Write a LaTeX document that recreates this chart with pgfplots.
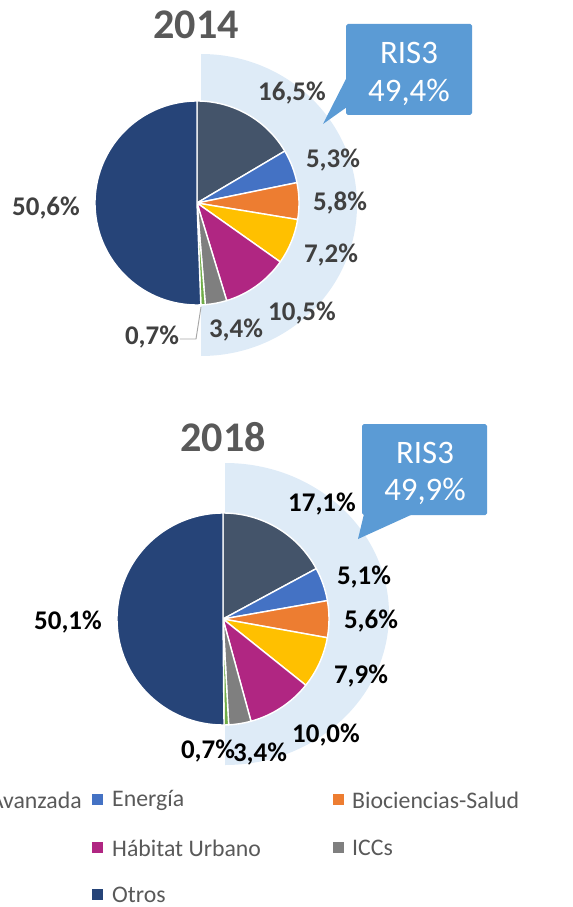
\documentclass[border=0pt]{standalone}
\usepackage{pgfplots}
\pgfplotsset{compat=1.18}
\usepackage{pgfplotstable}
\usepackage{fontspec}
\setmainfont{Carlito}

\definecolor{cFA}{HTML}{44546A}
\definecolor{cEN}{HTML}{4472C4}
\definecolor{cBS}{HTML}{ED7D31}
\definecolor{cAG}{HTML}{FFC000}
\definecolor{cHU}{HTML}{B02682}
\definecolor{cIC}{HTML}{7F7F7F}
\definecolor{cTU}{HTML}{70AD47}
\definecolor{cOT}{HTML}{264478}
\definecolor{ring}{HTML}{DEEBF7}
\definecolor{callout}{HTML}{5B9BD5}
\definecolor{titlegray}{HTML}{595959}
\definecolor{labgray}{HTML}{404040}

\tikzset{
  lab/.style={font=\bfseries\fontsize{23}{26}\selectfont, inner sep=0pt},
  leg/.style={font=\fontsize{20.3}{23}\selectfont, text=titlegray, inner sep=0pt, anchor=west},
  ttl/.style={font=\bfseries\fontsize{36}{40}\selectfont, text=titlegray, inner sep=0pt},
  ris/.style={text=white, font=\fontsize{28}{32}\selectfont, inner sep=0pt},
}

% clockwise from 12 o'clock
\pgfplotstableread{
sector val col
FA 16.5 cFA
EN 5.3 cEN
BS 5.8 cBS
AG 7.2 cAG
HU 10.5 cHU
IC 3.4 cIC
TU 0.7 cTU
OT 50.6 cOT
}\dataA
\pgfplotstableread{
sector val col
FA 17.1 cFA
EN 5.1 cEN
BS 5.6 cBS
AG 7.9 cAG
HU 10.0 cHU
IC 3.4 cIC
TU 0.7 cTU
OT 50.1 cOT
}\dataB

\def\pxu{0.3mm}

% #1 table, #2 cx, #3 cy, #4 radius (px)
\newcommand\drawpie[4]{%
  \pgfplotstablegetrowsof{#1}%
  \pgfmathtruncatemacro\lastrow{\pgfplotsretval-1}%
  \gdef\pietotal{0}%
  \foreach \i in {0,...,\lastrow}{%
    \pgfplotstablegetelem{\i}{val}\of{#1}%
    \pgfmathsetmacro\tmp{\pietotal+\pgfplotsretval}%
    \xdef\pietotal{\tmp}%
  }%
  \gdef\piecum{0}%
  \foreach \i in {0,...,\lastrow}{%
    \pgfplotstablegetelem{\i}{val}\of{#1}\let\sliceval\pgfplotsretval
    \pgfplotstablegetelem{\i}{col}\of{#1}\let\slicecol\pgfplotsretval
    \pgfmathsetmacro\aS{90-\piecum/\pietotal*360}%
    \pgfmathsetmacro\aE{90-(\piecum+\sliceval)/\pietotal*360}%
    \fill[\slicecol, draw=white, line width=1.2pt, line join=round]
      (axis cs:#2,#3) -- ++(\aS:#4*\pxu)
      arc[start angle=\aS, end angle=\aE, radius=#4*\pxu] -- cycle;
    \pgfmathsetmacro\tmp{\piecum+\sliceval}%
    \xdef\piecum{\tmp}%
  }%
}

\begin{document}
\begin{tikzpicture}
\begin{axis}[
  name=ax,
  scale only axis,
  width=171.9mm, height=272.1mm,
  xmin=0, xmax=573, ymin=0, ymax=907,
  y dir=reverse,
  axis lines=none, ticks=none,
  clip=false,
]
\pgfplotsextra{
  \begin{scope}
  \clip (axis cs:0,0) rectangle (axis cs:573,907);
  % light blue RIS3 backgrounds
  \fill[ring] (axis cs:201,205) ++(90:151*\pxu)
     arc[start angle=90, end angle=-90, x radius=156*\pxu, y radius=151*\pxu] -- cycle;
  \fill[ring] (axis cs:225,614) ++(90:151*\pxu)
     arc[start angle=90, end angle=-90, x radius=164*\pxu, y radius=151*\pxu] -- cycle;

  \drawpie{\dataA}{197}{203}{102}
  \drawpie{\dataB}{223}{619}{106}

  % titles
  \node[ttl] at (axis cs:196,25) {2014};
  \node[ttl] at (axis cs:223,437) {2018};

  % callouts
  \fill[callout, rounded corners=1.5pt] (axis cs:346,24) rectangle (axis cs:472,115);
  \fill[callout] (axis cs:347,77) -- (axis cs:323,124) -- (axis cs:347,107) -- cycle;
  \node[ris] at (axis cs:409,53) {RIS3};
  \node[ris] at (axis cs:409,92) {49,4\%};

  \fill[callout, rounded corners=1.5pt] (axis cs:362,424) rectangle (axis cs:487,515);
  \fill[callout] (axis cs:364,514) -- (axis cs:358,539) -- (axis cs:413,514) -- cycle;
  \node[ris] at (axis cs:425,453) {RIS3};
  \node[ris] at (axis cs:425,491) {49,9\%};

  % 2014 labels
  \node[lab, text=labgray] at (axis cs:292,93) {16,5\%};
  \node[lab, text=labgray] at (axis cs:333,160) {5,3\%};
  \node[lab, text=labgray] at (axis cs:340,203) {5,8\%};
  \node[lab, text=labgray] at (axis cs:331,255) {7,2\%};
  \node[lab, text=labgray] at (axis cs:302,313) {10,5\%};
  \node[lab, text=labgray] at (axis cs:236,330) {3,4\%};
  \node[lab, text=labgray] at (axis cs:152,337) {0,7\%};
  \node[lab, text=labgray] at (axis cs:46,208) {50,6\%};
  \draw[gray!70, line width=0.8pt] (axis cs:180,339) -- (axis cs:196,339) -- (axis cs:201,307);

  % 2018 labels
  \node[lab] at (axis cs:322,504) {17,1\%};
  \node[lab] at (axis cs:364,577) {5,1\%};
  \node[lab] at (axis cs:371,621) {5,6\%};
  \node[lab] at (axis cs:361,676) {7,9\%};
  \node[lab] at (axis cs:326,735) {10,0\%};
  \node[lab] at (axis cs:260,754) {3,4\%};
  \node[lab] at (axis cs:208,751) {0,7\%};
  \node[lab] at (axis cs:68,622) {50,1\%};

  % legend (left column runs off the picture, as in the source)
  \node[leg, anchor=east] at (axis cs:82,800) {Fabricación Avanzada};
  \fill[cEN] (axis cs:92,794) rectangle (axis cs:103,805);
  \node[leg] at (axis cs:112,800) {Energía};
  \fill[cBS] (axis cs:333,794) rectangle (axis cs:344,805);
  \node[leg] at (axis cs:352,800) {Biociencias-Salud};
  \fill[cHU] (axis cs:92,842) rectangle (axis cs:103,853);
  \node[leg] at (axis cs:112,848) {Hábitat Urbano};
  \fill[cIC] (axis cs:333,842) rectangle (axis cs:344,853);
  \node[leg] at (axis cs:352,848) {ICCs};
  \fill[cOT] (axis cs:92,889) rectangle (axis cs:103,900);
  \node[leg] at (axis cs:112,895) {Otros};
  \end{scope}
}
\end{axis}
\pgfresetboundingbox
\useasboundingbox (ax.south west) rectangle (ax.north east);
\end{tikzpicture}
\end{document}
